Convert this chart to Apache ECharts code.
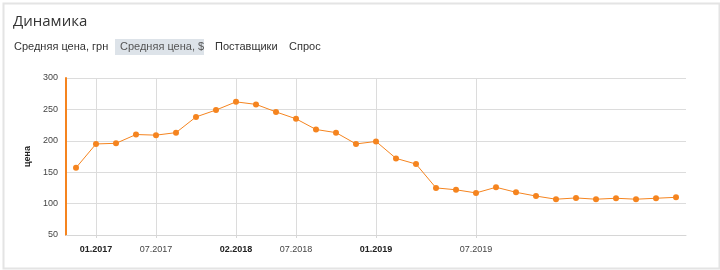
<!DOCTYPE html>
<html>
<head>
<meta charset="utf-8">
<script src="https://cdn.jsdelivr.net/npm/echarts@6/dist/echarts.min.js"></script>
<style>
html,body{margin:0;padding:0;background:#fff;}
#c{width:720px;height:270px;}
</style>
</head>
<body>
<div id="c"></div>
<script>
// Data
const categories = ['', '01.2017', '', '', '07.2017', '', '', '', '02.2018', '', '', '07.2018', '', '', '', '01.2019', '', '', '', '', '07.2019', '', '', '', '', '', '', '', '', '', ''];
const boldLabels = ['01.2017', '02.2018', '01.2019'];
const prices = [157, 195, 196, 210, 209, 213, 238, 249, 262, 258, 246, 235, 218, 213, 195, 199, 172, 163, 125, 122, 117, 126, 118, 112, 107, 109, 107, 108.5, 107, 108.5, 110];
const yTicks = {min: 50, max: 300, interval: 50};
const titleText = 'Динамика';
const tabs = ['Средняя цена, грн', 'Средняя цена, $', 'Поставщики', 'Спрос'];
const yName = 'цена';

const FONT = '"Liberation Sans", Arial, sans-serif';
const ORANGE = '#f5841f';
const chart = echarts.init(document.getElementById('c'), null, {renderer: 'canvas'});

const tabX = [14, 120, 215, 289];
const tabGraphics = [];
tabs.forEach((t, i) => {
  if (i === 1) {
    tabGraphics.push({type: 'rect', left: 115, top: 39, shape: {width: 89, height: 16}, style: {fill: '#dde3e9'}, z: 1});
  }
  tabGraphics.push({type: 'text', left: tabX[i], top: 41, style: {text: t, font: '11px ' + FONT, fill: i === 1 ? '#555' : '#333'}, z: 2});
});

const labeledIdx = categories.map((c, i) => c !== '' ? i : -1).filter(i => i >= 0);
const hasLabel = (idx) => categories[idx] !== '';

chart.setOption({
  animation: false,
  title: {text: titleText, left: 8, top: 9, textStyle: {fontSize: 15, fontWeight: 'normal', color: '#333', fontFamily: '"Open Sans", ' + FONT}},
  graphic: [
    {type: 'rect', left: 1, top: 1, shape: {width: 716, height: 265}, style: {fill: 'none', stroke: '#e4e4e4', lineWidth: 2}, z: 0, silent: true},
    ...tabGraphics
  ],
  grid: {left: 66, right: 34, top: 78, bottom: 35},
  xAxis: {
    type: 'category',
    data: categories,
    boundaryGap: true,
    axisLine: {lineStyle: {color: '#d6d6d6'}},
    axisTick: {show: true, interval: (i) => hasLabel(i), alignWithLabel: true, length: 3, lineStyle: {color: '#d6d6d6'}},
    splitLine: {show: false},
    axisLabel: {
      interval: 0,
      margin: 10,
      fontSize: 9,
      fontFamily: FONT,
      color: '#444',
      formatter: (v) => boldLabels.includes(v) ? '{b|' + v + '}' : v,
      rich: {b: {fontWeight: 'bold', fontSize: 9, color: '#222', fontFamily: FONT}}
    }
  },
  yAxis: {
    type: 'value',
    min: yTicks.min, max: yTicks.max, interval: yTicks.interval,
    name: yName,
    nameLocation: 'middle',
    nameGap: 30,
    nameRotate: 90,
    nameTextStyle: {fontSize: 9, fontWeight: 'bold', color: '#222', fontFamily: FONT},
    axisLine: {show: true, lineStyle: {color: ORANGE, width: 2}},
    axisTick: {show: false},
    axisLabel: {fontSize: 9, color: '#444', margin: 8, fontFamily: FONT},
    splitLine: {lineStyle: {color: '#dcdcdc'}}
  },
  series: [{
    type: 'line',
    data: prices,
    symbol: 'circle',
    symbolSize: 6,
    lineStyle: {color: ORANGE, width: 1},
    itemStyle: {color: ORANGE},
    z: 3,
    markLine: {
      silent: true,
      symbol: ['none', 'none'],
      label: {show: false},
      lineStyle: {color: '#dcdcdc', type: 'solid', width: 1},
      z: 1,
      data: labeledIdx.map(i => ({xAxis: i}))
    }
  }]
});
</script>
</body>
</html>
